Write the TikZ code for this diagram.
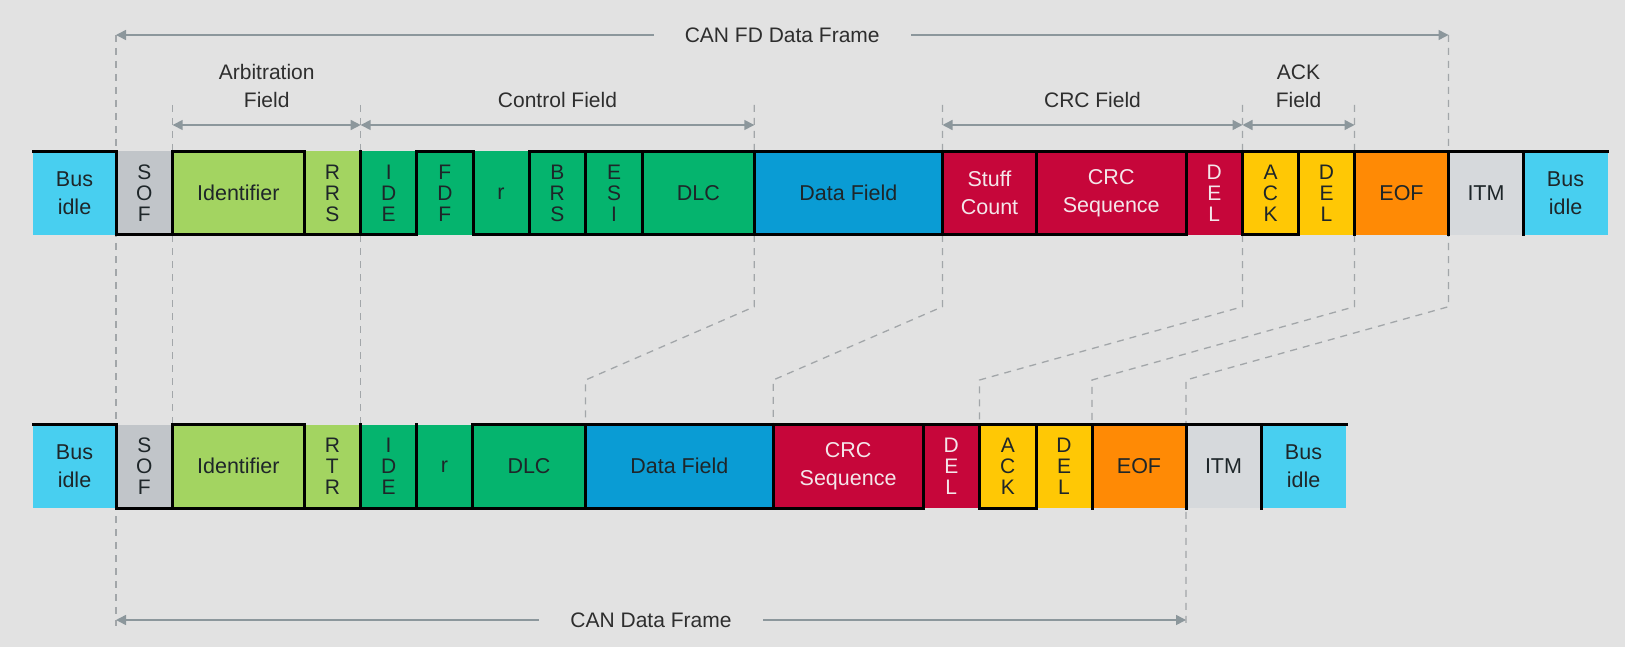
\documentclass[tikz,border=0pt]{standalone}
\usepackage{fontspec}
\setmainfont{Liberation Sans}
\usetikzlibrary{arrows.meta}
\definecolor{bg}{HTML}{E2E2E2}
\definecolor{cyanc}{HTML}{48CFF0}
\definecolor{sofc}{HTML}{C1C5C9}
\definecolor{lgreen}{HTML}{A3D461}
\definecolor{dgreen}{HTML}{05B46E}
\definecolor{bluec}{HTML}{0A9CD4}
\definecolor{redc}{HTML}{C6063A}
\definecolor{yellowc}{HTML}{FFC805}
\definecolor{orangec}{HTML}{FF8A05}
\definecolor{itmc}{HTML}{D6D9DC}
\definecolor{dashc}{HTML}{A2A6A9}
\definecolor{arrc}{HTML}{8C979C}
\definecolor{txt}{HTML}{1E2629}
\definecolor{wtxt}{HTML}{F4E6EA}
\definecolor{anntxt}{HTML}{2E2E2E}
\pgfdeclarelayer{bgl}
\pgfsetlayers{bgl,main}
\newcommand\mkcell[6]{%
  \pgfmathsetmacro\cellw{#3-#2}%
  \node[cellbox,#5,minimum width=\cellw pt,anchor=north west] (#1) at (#2,#4) {#6};}
\tikzset{
  cellbox/.style={inner sep=0pt, outer sep=0pt, minimum height=83.5pt, text=txt,
    align=center, font=\fontsize{21.5}{28}\selectfont},
  stk/.style={font=\fontsize{21}{21}\selectfont},
  c-bus/.style={fill=cyanc},
  c-sof/.style={fill=sofc},
  c-lg/.style={fill=lgreen},
  c-dg/.style={fill=dgreen},
  c-bl/.style={fill=bluec},
  c-red/.style={fill=redc, text=wtxt},
  c-yel/.style={fill=yellowc},
  c-or/.style={fill=orangec},
  c-itm/.style={fill=itmc},
  wave/.style={line width=3pt, line cap=rect, draw=black},
  dl/.style={draw=dashc, line width=1.3pt, dash pattern=on 7pt off 6pt},
  dim/.style={draw=arrc, line width=1.5pt,
    {Triangle[length=10pt,width=10pt]}-{Triangle[length=10pt,width=10pt]}},
  ann/.style={text=anntxt, font=\fontsize{21}{28}\selectfont, inner sep=0pt},
  annmid/.style={ann, fill=bg, inner xsep=31pt, inner ysep=3pt, midway}
}
\begin{document}
\begin{tikzpicture}[x=1pt,y=-1pt]
\useasboundingbox (0,0) rectangle (1625,647);
\begin{pgfonlayer}{bgl}
\fill[bg] (0,0) rectangle (1625,647);
\end{pgfonlayer}
\path (0,35) coordinate (yfd) (0,105) coordinate (yfield) (0,626) coordinate (ybot)
      (0,306.7) coordinate (ybA) (0,380) coordinate (ybB) (0,125) coordinate (yarr)
      (0,620) coordinate (ycan);
% top row (CAN FD)
\mkcell{t1}{33}{116}{151.5}{c-bus}{Bus\\idle}
\mkcell{t2}{116}{172.7}{151.5}{c-sof,stk}{S\\O\\F}
\mkcell{t3}{172.7}{304}{151.5}{c-lg}{Identifier}
\mkcell{t4}{304}{360.7}{151.5}{c-lg,stk}{R\\R\\S}
\mkcell{t5}{360.7}{416.7}{151.5}{c-dg,stk}{I\\D\\E}
\mkcell{t6}{416.7}{473}{151.5}{c-dg,stk}{F\\D\\F}
\mkcell{t7}{473}{529}{151.5}{c-dg}{r}
\mkcell{t8}{529}{585.5}{151.5}{c-dg,stk}{B\\R\\S}
\mkcell{t9}{585.5}{642.5}{151.5}{c-dg,stk}{E\\S\\I}
\mkcell{t10}{642.5}{754.3}{151.5}{c-dg}{DLC}
\mkcell{t11}{754.3}{942.5}{151.5}{c-bl}{Data Field}
\mkcell{t12}{942.5}{1036.5}{151.5}{c-red}{Stuff\\Count}
\mkcell{t13}{1036.5}{1186}{151.5}{c-red}{CRC\\Sequence}
\mkcell{t14}{1186}{1242.5}{151.5}{c-red,stk}{D\\E\\L}
\mkcell{t15}{1242.5}{1298.5}{151.5}{c-yel,stk}{A\\C\\K}
\mkcell{t16}{1298.5}{1354.5}{151.5}{c-yel,stk}{D\\E\\L}
\mkcell{t17}{1354.5}{1448.5}{151.5}{c-or}{EOF}
\mkcell{t18}{1448.5}{1523.5}{151.5}{c-itm}{ITM}
\mkcell{t19}{1523.5}{1607.5}{151.5}{c-bus}{Bus\\idle}
% bottom row (CAN)
\mkcell{b1}{33}{116}{424.5}{c-bus}{Bus\\idle}
\mkcell{b2}{116}{172.7}{424.5}{c-sof,stk}{S\\O\\F}
\mkcell{b3}{172.7}{304}{424.5}{c-lg}{Identifier}
\mkcell{b4}{304}{360.7}{424.5}{c-lg,stk}{R\\T\\R}
\mkcell{b5}{360.7}{416.5}{424.5}{c-dg,stk}{I\\D\\E}
\mkcell{b6}{416.5}{472.5}{424.5}{c-dg}{r}
\mkcell{b7}{472.5}{585.5}{424.5}{c-dg}{DLC}
\mkcell{b8}{585.5}{773.2}{424.5}{c-bl}{Data Field}
\mkcell{b9}{773.2}{923}{424.5}{c-red}{CRC\\Sequence}
\mkcell{b10}{923}{979.5}{424.5}{c-red,stk}{D\\E\\L}
\mkcell{b11}{979.5}{1036}{424.5}{c-yel,stk}{A\\C\\K}
\mkcell{b12}{1036}{1092}{424.5}{c-yel,stk}{D\\E\\L}
\mkcell{b13}{1092}{1186}{424.5}{c-or}{EOF}
\mkcell{b14}{1186}{1261}{424.5}{c-itm}{ITM}
\mkcell{b15}{1261}{1346}{424.5}{c-bus}{Bus\\idle}
% waveform: recessive (top) lines, dominant (bottom) lines, transitions
\foreach \n in {t1,t3,t6,t8,t9,t10,t11,t12,t13,t14,t15,t16,t17,t18,t19,
                b1,b3,b7,b8,b9,b10,b11,b12,b13,b14,b15}
  \draw[wave] (\n.north west) -- (\n.north east);
\foreach \n in {t2,t3,t4,t5,t7,t8,t9,t10,t11,t12,t13,t15,
                b2,b3,b4,b5,b6,b7,b8,b9,b11}
  \draw[wave] (\n.south west) -- (\n.south east);
\foreach \n in {t2,t3,t4,t5,t6,t7,t8,t9,t10,t11,t12,t13,t14,t15,t16,t17,t18,t19,
                b2,b3,b4,b5,b6,b7,b8,b9,b10,b11,b12,b13,b14,b15}
  \draw[wave] (\n.north west) -- (\n.south west);
% dashed guide lines
\begin{pgfonlayer}{bgl}
\draw[dl] (t2.north west |- yfd) -- (b2.south west |- ybot);
\draw[dl] (t3.north west |- yfield) -- (b3.north west);
\draw[dl] (t5.north west |- yfield) -- (b5.north west);
\draw[dl] (t11.north west |- yfield) -- (t11.north west |- ybA) -- (b8.north west |- ybB) -- (b8.north west);
\draw[dl] (t12.north west |- yfield) -- (t12.north west |- ybA) -- (b9.north west |- ybB) -- (b9.north west);
\draw[dl] (t15.north west |- yfield) -- (t15.north west |- ybA) -- (b11.north west |- ybB) -- (b11.north west);
\draw[dl] (t17.north west |- yfield) -- (t17.north west |- ybA) -- (b13.north west |- ybB) -- (b13.north west);
\draw[dl] (t18.north west |- yfd) -- (t18.north west |- ybA) -- (b14.north west |- ybB) -- (b14.south west |- ybot);
\end{pgfonlayer}
% dimension arrows
\draw[dim] (t2.north west |- yfd) -- (t18.north west |- yfd) node[annmid] (lfd) {CAN FD Data Frame};
\draw[dim] (b2.south west |- ycan) -- (b14.south west |- ycan) node[annmid] (lcan) {CAN Data Frame};
\draw[dim] (t3.north west |- yarr) -- (t5.north west |- yarr);
\draw[dim] (t5.north west |- yarr) -- (t11.north west |- yarr);
\draw[dim] (t12.north west |- yarr) -- (t15.north west |- yarr);
\draw[dim] (t15.north west |- yarr) -- (t17.north west |- yarr);
\node[ann, anchor=base] (larb) at (266.7,108) {\begin{tabular}[b]{@{}c@{}}Arbitration\\Field\end{tabular}};
\node[ann, anchor=base] (lctl) at (557.5,108) {Control Field};
\node[ann, anchor=base] (lcrc) at (1092.5,108) {CRC Field};
\node[ann, anchor=base] (lack) at (1298.5,108) {\begin{tabular}[b]{@{}c@{}}ACK\\Field\end{tabular}};
\end{tikzpicture}
\end{document}
